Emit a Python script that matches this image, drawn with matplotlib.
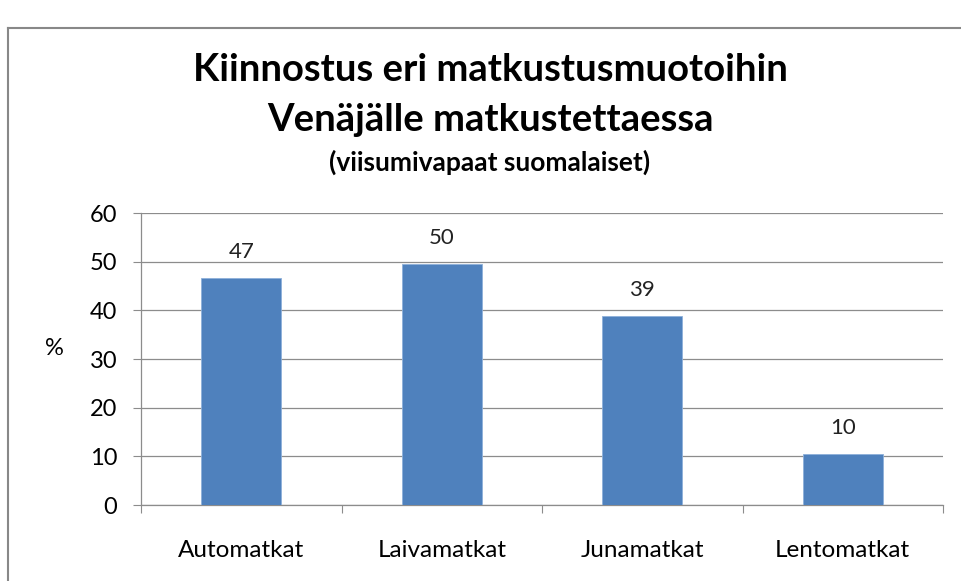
import matplotlib.pyplot as plt
from matplotlib.lines import Line2D

# tiedot kuvasta
categories = ['Automatkat', 'Laivamatkat', 'Junamatkat', 'Lentomatkat']
values = [46.7, 49.6, 38.8, 10.4]
yticks = [0, 10, 20, 30, 40, 50, 60]

plt.rcParams['font.family'] = ['Lato', 'DejaVu Sans']

W, H = 962, 581
fig = plt.figure(figsize=(W / 100, H / 100), dpi=100)
ax = fig.add_axes([141 / W, 1 - 505 / H, (943 - 141) / W, (505 - 213) / H])

x = range(len(categories))
bars = ax.bar(x, values, width=0.4, color='#4F81BD', edgecolor='#8EB0DA', linewidth=0.6, zorder=3)
for b, v in zip(bars, values):
    ax.text(b.get_x() + b.get_width() / 2, v + 3.3, f'{v:.0f}', ha='center', va='bottom',
            fontsize=16, color='#222222')

ax.set_xlim(-0.5, len(categories) - 0.5)
ax.set_ylim(0, 60)
ax.set_yticks(yticks)
ax.yaxis.grid(True, color='#8c8c8c', linewidth=0.9, zorder=0)
ax.set_axisbelow(True)

# kategoriarajat ja nimet
ax.set_xticks([i - 0.5 for i in range(len(categories) + 1)])
ax.set_xticklabels([])
ax.set_xticks(list(x), minor=True)
ax.set_xticklabels(categories, minor=True, fontsize=17.5)
ax.tick_params(axis='x', which='minor', length=0, pad=25)
ax.tick_params(axis='x', which='major', length=6, color='#8c8c8c')
ax.tick_params(axis='y', length=6, color='#8c8c8c', labelsize=17, pad=11)

for s in ['top', 'right']:
    ax.spines[s].set_visible(False)
for s in ['left', 'bottom']:
    ax.spines[s].set_color('#8c8c8c')
    ax.spines[s].set_linewidth(0.9)

ax.set_ylabel('%', rotation=0, fontsize=17, labelpad=0)
ax.yaxis.set_label_coords(-0.108, 0.5)

fig.text(490 / W, 1 - 70 / H, 'Kiinnostus eri matkustusmuotoihin', ha='center', va='center',
         fontsize=27.5, fontweight='bold')
fig.text(490 / W, 1 - 120 / H, 'Venäjälle matkustettaessa', ha='center', va='center',
         fontsize=27.5, fontweight='bold')
fig.text(490 / W, 1 - 162 / H, '(viisumivapaat suomalaiset)', ha='center', va='center',
         fontsize=19, fontweight='bold')

# kaavion reunaviiva
fig.add_artist(Line2D([8 / W, 8 / W], [0, 1 - 28 / H], transform=fig.transFigure, color='#888888', lw=1.5))
fig.add_artist(Line2D([8 / W, 1], [1 - 28 / H, 1 - 28 / H], transform=fig.transFigure, color='#888888', lw=1.5))

fig.savefig('out.png', dpi=100)
